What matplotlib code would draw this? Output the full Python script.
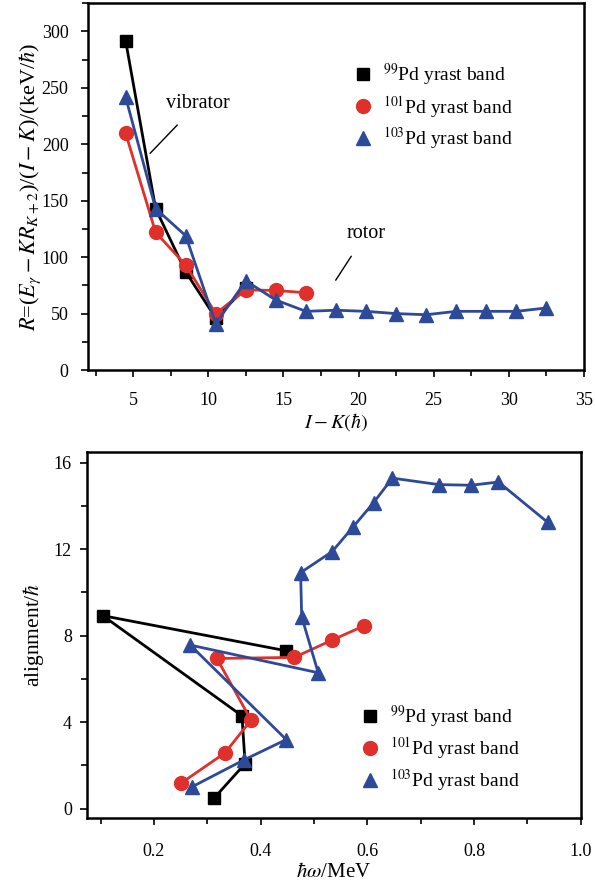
import matplotlib
matplotlib.use("Agg")
import matplotlib.pyplot as plt
from matplotlib.lines import Line2D
from matplotlib.ticker import MultipleLocator

plt.rcParams["font.family"] = ["Liberation Serif", "DejaVu Serif"]
plt.rcParams["mathtext.fontset"] = "stix"

# ---- upper panel: R vs I-K ----
ik_99 = [4.5, 6.5, 8.5, 10.5, 12.5]
r_99 = [292, 143, 87, 46, 73]
ik_101 = [4.5, 6.5, 8.5, 10.5, 12.5, 14.5, 16.5]
r_101 = [210, 122, 93, 50, 71, 70.5, 68.5]
ik_103 = [4.5, 6.5, 8.5, 10.5, 12.5, 14.5, 16.5, 18.5, 20.5, 22.5, 24.5,
          26.5, 28.5, 30.5, 32.5]
r_103 = [242, 143, 119, 41, 79, 62, 52, 53, 52, 50, 49, 52, 52, 52, 55]

# ---- lower panel: alignment vs rotational frequency ----
w_99 = [0.313, 0.371, 0.365, 0.104, 0.447]
a_99 = [0.49, 2.08, 4.29, 8.92, 7.30]
w_101 = [0.250, 0.333, 0.382, 0.318, 0.463, 0.534, 0.594]
a_101 = [1.16, 2.57, 4.09, 6.94, 6.99, 7.79, 8.45]
w_103 = [0.271, 0.368, 0.448, 0.268, 0.508, 0.477, 0.475, 0.534, 0.574,
         0.612, 0.647, 0.734, 0.795, 0.846, 0.938]
a_103 = [1.00, 2.24, 3.19, 7.56, 6.28, 8.87, 10.91, 11.88, 13.04, 14.15,
         15.28, 14.98, 14.95, 15.10, 13.24]

labels = [r"$^{99}$Pd yrast band", r"$^{101}$Pd yrast band",
          r"$^{103}$Pd yrast band"]
colors = ["#000000", "#e0302c", "#2c4a98"]
markers = ["s", "o", "^"]
msizes = [8.5, 10, 10.5]

fig = plt.figure(figsize=(5.95, 8.88), dpi=100)
ax1 = fig.add_axes([0.1479, 0.5833, 0.9815 - 0.1479, 0.9963 - 0.5833])
ax2 = fig.add_axes([0.1467, 0.0785, 0.9758 - 0.1467, 0.4913 - 0.0785])

lw = 2.0
for x, y, c, m, ms in zip([ik_99, ik_101, ik_103], [r_99, r_101, r_103],
                          colors, markers, msizes):
    ax1.plot(x, y, color=c, marker=m, ms=ms, lw=lw, mec=c, mfc=c)

for x, y, c, m, ms in zip([w_99, w_101, w_103], [a_99, a_101, a_103],
                          colors, markers, msizes):
    ax2.plot(x, y, color=c, marker=m, ms=ms, lw=lw, mec=c, mfc=c)

for ax in (ax1, ax2):
    for sp in ax.spines.values():
        sp.set_linewidth(1.8)
    ax.tick_params(axis="both", which="both", direction="out",
                   top=False, right=False, width=1.2, labelsize=13)
    ax.tick_params(which="major", length=5)
    ax.tick_params(which="minor", length=4)

ax1.tick_params(axis="x", which="major", pad=11)
ax1.tick_params(axis="y", which="major", pad=9)
ax2.tick_params(axis="x", which="major", pad=13)
ax2.tick_params(axis="y", which="major", pad=6)

ax1.set_xlim(2, 35)
ax1.set_ylim(0, 325)
ax1.xaxis.set_major_locator(MultipleLocator(5))
ax1.xaxis.set_minor_locator(MultipleLocator(2.5))
ax1.yaxis.set_major_locator(MultipleLocator(50))
ax1.yaxis.set_minor_locator(MultipleLocator(25))
ax1.set_xlabel(r"$I-K(\hbar)$", fontsize=14.5, labelpad=1)
ax1.set_ylabel(r"$R$=($E_\gamma-KR_{K+2}$)/($I-K$)/(keV/$\hbar$)",
               fontsize=16, labelpad=-1)

ax2.set_xlim(0.075, 1.0)
ax2.set_ylim(-0.45, 16.5)
ax2.xaxis.set_major_locator(MultipleLocator(0.2))
ax2.xaxis.set_minor_locator(MultipleLocator(0.1))
ax2.yaxis.set_major_locator(MultipleLocator(4))
ax2.yaxis.set_minor_locator(MultipleLocator(2))
ax2.set_xlabel(r"$\hbar\omega$/MeV", fontsize=15, labelpad=2)
ax2.set_ylabel(r"alignment/$\hbar$", fontsize=15.5, labelpad=6)

# annotations
ax1.annotate("vibrator", xy=(6.13, 192), xytext=(9.3, 236),
             ha="center", va="center", fontsize=14.5,
             arrowprops=dict(arrowstyle="-", lw=1.0, color="black",
                             shrinkA=9, shrinkB=0))
ax1.annotate("rotor", xy=(18.48, 79.6), xytext=(20.5, 121),
             ha="center", va="center", fontsize=14.5,
             arrowprops=dict(arrowstyle="-", lw=1.0, color="black",
                             shrinkA=9, shrinkB=0))

handles = [Line2D([], [], ls="none", marker=m, ms=ms, color=c, mec=c)
           for m, ms, c in zip(markers, msizes, colors)]
ax1.legend(handles, labels, loc="upper left", bbox_to_anchor=(0.508, 0.878),
           frameon=False, fontsize=14, handlelength=1.0, handletextpad=0.5,
           labelspacing=0.3, borderpad=0.2)
ax2.legend(handles, labels, loc="upper left", bbox_to_anchor=(0.526, 0.35),
           frameon=False, fontsize=14, handlelength=1.0, handletextpad=0.5,
           labelspacing=0.3, borderpad=0.2)

fig.savefig("out.png", dpi=100)
